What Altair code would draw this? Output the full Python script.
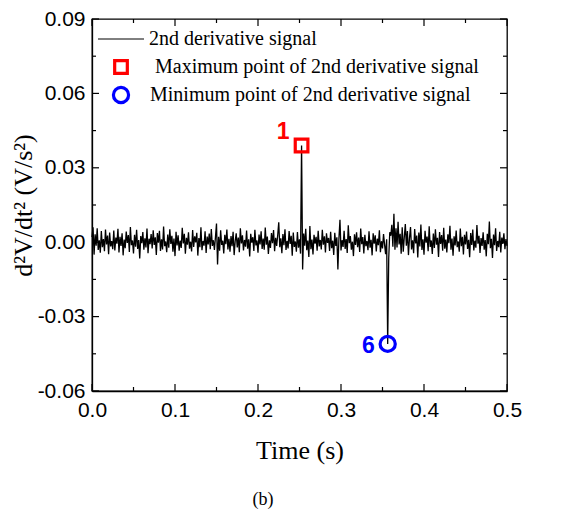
import altair as alt
import pandas as pd
import numpy as np

# 2nd derivative signal, in units of 1e-3 V/s^2, sampled every 1.25 ms from t = 0
dt_s = 0.00125
signal_milli = [
    2.1, 6.0, -5.0, 3.2, -1.4, 5.6, -3.1, 0.8, -4.2, 4.5, -2.0, 1.3, -3.6, 5.1, -0.9, 2.7, -4.8, 3.9, -1.7, 0.4,
    -2.8, 4.7, -3.3, 1.9, -0.6, 5.4, -4.1, 2.2, -1.5, 3.6, -5.3, 1.1, -2.4, 4.3, -0.3, 2.9, -3.9, 6.1, -1.2, 0.7,
    -4.5, 3.0, -1.8, 5.0, -2.7, 0.9, -6.6, 2.5, -0.4, 4.1, -3.0, 1.6, -2.1, 5.5, -4.4, 1.4, -0.8, 3.3, -2.5, 4.8,
    -1.1, 2.0, -5.1, 3.7, -0.2, 4.6, -3.5, 1.2, -2.9, 6.3, -1.6, 0.3, -4.0, 3.1, -2.2, 5.2, -0.7, 2.6, -3.8, 1.5,
    -5.6, 4.2, -1.3, 2.8, -3.4, 0.6, -2.3, 5.8, -0.5, 3.4, -4.6, 1.8, -1.0, 4.0, -2.6, 0.2, -3.7, 4.9, -1.9, 2.4,
    -0.1, 3.8, -5.4, 1.7, -2.0, 6.0, -3.2, 0.5, -1.4, 4.4, -4.3, 2.3, -0.9, 3.5, -2.8, 5.3, -1.5, 0.8, -3.1, 2.1,
    7.5, -9.0, 2.2, -3.4, 4.8, -1.1, 0.6, -4.5, 3.0, -0.8, 5.1, -2.9, 1.4, -3.8, 2.5, -1.6, 4.2, -5.2, 0.4, 3.6,
    -2.1, 1.9, -4.0, 5.6, -0.5, 2.8, -3.3, 0.9, -1.8, 4.7, -2.6, 1.2, -5.8, 3.4, -0.2, 2.0, -3.5, 5.0, -1.3, 0.7,
    -4.2, 3.1, -0.9, 4.4, -2.7, 1.5, -3.0, 5.9, -1.0, 2.3, -4.7, 0.8, -2.3, 3.7, -0.4, 4.9, -3.6, 1.8, -1.5, 2.9,
    8.0, -2.0, 1.6, -4.4, 3.3, -1.2, 5.2, -3.1, 0.5, -2.5, 4.5, -0.7, 2.6, -5.5, 3.9, -1.9, 0.3, -3.8, 4.1, -2.2,
    1.2, -4.6, 39.0, -11.0, 3.5, -1.4, 5.4, -3.2, 0.7, -6.0, 6.5, -2.8, 1.1, -4.9, 3.0, -0.6, 2.2, -3.4, 4.6, -1.7,
    0.9, -2.9, 5.0, -1.0, 2.4, -4.1, 3.6, -0.3, 1.7, -3.5, 4.2, -2.4, 0.6, -5.1, 3.8, -1.5, 2.0, -11.0, 1.5, 9.0,
    -3.3, 0.8, -1.9, 4.6, -2.7, 1.3, -4.3, 6.8, -0.4, 2.5, -3.0, 0.2, -5.6, 3.2, -1.1, 4.0, -2.0, 1.9, -3.9, 5.5,
    -0.8, 2.1, -4.5, 3.0, -1.6, 0.5, -3.2, 4.4, -2.2, 1.0, -5.3, 3.6, -0.6, 2.8, -3.7, 1.4, -1.2, 4.8, -4.0, 0.4,
    -2.5, 3.3, -1.0, -4.8, 1.2, -41.0, -6.5, 4.0, 2.6, 7.0, -1.8, 11.5, -3.0, 5.6, -2.1, 8.2, -0.9, 3.4, -4.6, 6.0,
    -3.8, 2.0, 7.3, -1.4, 4.5, -5.2, 1.6, 6.1, -2.9, 0.8, -4.4, 5.3, -0.5, 2.7, -6.2, 3.9, -1.7, 7.1, -3.1, 1.2,
    -5.0, 4.6, -0.2, 2.3, -3.6, 6.4, -1.9, 0.7, -4.7, 3.5, -2.3, 5.2, -1.0, 1.8, -6.0, 4.1, -0.7, 2.9, -3.4, 5.8,
    -2.6, 1.1, -4.1, 3.2, -0.4, 6.6, -3.0, 1.5, -5.4, 2.4, -1.3, 4.7, -2.0, 0.3, -3.8, 5.5, -1.6, 2.2, -4.9, 3.0,
    -0.9, 4.3, -2.7, 1.0, -6.1, 3.7, -1.1, 5.1, -3.3, 0.6, -2.2, 6.9, -0.6, 2.6, -4.3, 1.7, -1.5, 4.0, -3.0, 0.9,
    -5.7, 3.4, -0.8, 8.3, -2.4, 1.4, -6.4, 3.1, -1.2, 5.6, -3.5, 0.5, -2.0, 4.2, -4.1, 1.9, -0.7, 3.6, -2.8, 1.3,
    -1.5,
]

y_major = [-0.06, -0.03, 0.0, 0.03, 0.06, 0.09]
y_minor = [-0.045, -0.015, 0.015, 0.045, 0.075]
x_major = [0.0, 0.1, 0.2, 0.3, 0.4, 0.5]
x_minor = [0.05, 0.15, 0.25, 0.35, 0.45]

legend_labels = ["2nd derivative signal",
                 "Maximum point of 2nd derivative signal",
                 "Minimum point of 2nd derivative signal"]
max_label = "1"
min_label = "6"

W, H = 415, 372

sig = np.array(signal_milli) / 1000.0
t = np.arange(len(sig)) * dt_s
df = pd.DataFrame({"t": t, "v": sig})
imax, imin = int(np.argmax(sig)), int(np.argmin(sig))
df_max = pd.DataFrame({"t": [t[imax]], "v": [sig[imax]], "lab": [max_label]})
df_min = pd.DataFrame({"t": [t[imin]], "v": [sig[imin]], "lab": [min_label]})

xs = alt.Scale(domain=[0, 0.5], nice=False, zero=False)
ys = alt.Scale(domain=[-0.06, 0.09], nice=False, zero=False)

label_font = "Liberation Sans"
serif = "Liberation Serif"

x_axis = alt.Axis(values=x_major, format=".1f", ticks=False, grid=False,
                  labelFont=label_font, labelFontSize=21, labelColor="black",
                  labelPadding=8, labelFlush=False, labelOverlap=False,
                  domainColor="black", domainWidth=1.3,
                  title="Time (s)", titleFont=serif, titleFontSize=26,
                  titleFontWeight="normal", titleColor="black",
                  titleX=W / 2, titleY=59, titleBaseline="middle", titleAlign="center")
y_axis = alt.Axis(values=y_major, ticks=False, grid=False,
                  labelExpr="replace(format(datum.value, '.2f'), '\u2212', '-')",
                  labelFont=label_font, labelFontSize=21, labelColor="black",
                  labelPadding=7, labelFlush=False, labelOverlap=False,
                  domainColor="black", domainWidth=1.3,
                  title="d\u00b2V/dt\u00b2 (V/s\u00b2)", titleFont=serif, titleFontSize=26,
                  titleFontWeight="normal", titleColor="black",
                  titleX=-69, titleY=H / 2, titleAngle=-90,
                  titleBaseline="middle", titleAlign="center")


def X(field):
    return alt.X(field, scale=xs, axis=x_axis)


def Y(field):
    return alt.Y(field, scale=ys, axis=y_axis)


line = alt.Chart(df).mark_line(color="black", strokeWidth=1.3).encode(x=X("t:Q"), y=Y("v:Q"))

pmax = alt.Chart(df_max).mark_point(shape="square", filled=False, color="#ff0000",
                                    strokeWidth=3.2, size=160, opacity=1).encode(x=X("t:Q"), y=Y("v:Q"))
pmin = alt.Chart(df_min).mark_point(shape="circle", filled=False, color="#0000ff",
                                    strokeWidth=3.2, size=230, opacity=1).encode(x=X("t:Q"), y=Y("v:Q"))
tmax = alt.Chart(df_max).mark_text(color="#ff0000", font=label_font, fontSize=23,
                                   fontWeight="bold", align="right", baseline="middle",
                                   dx=-12, dy=-13).encode(x=X("t:Q"), y=Y("v:Q"), text="lab:N")
tmin = alt.Chart(df_min).mark_text(color="#0000ff", font=label_font, fontSize=23,
                                   fontWeight="bold", align="right", baseline="middle",
                                   dx=-13, dy=2).encode(x=X("t:Q"), y=Y("v:Q"), text="lab:N")


# inward ticks on all four sides
def yticks(vals, length):
    d = pd.DataFrame({"v": vals})
    left = alt.Chart(d).mark_rule(color="black", strokeWidth=1.2).encode(
        y=Y("v:Q"), x=alt.value(0), x2=alt.value(length))
    right = alt.Chart(d).mark_rule(color="black", strokeWidth=1.2).encode(
        y=Y("v:Q"), x=alt.value(W - length), x2=alt.value(W))
    return [left, right]


def xticks(vals, length):
    d = pd.DataFrame({"t": vals})
    bottom = alt.Chart(d).mark_rule(color="black", strokeWidth=1.2).encode(
        x=X("t:Q"), y=alt.value(H), y2=alt.value(H - length))
    top = alt.Chart(d).mark_rule(color="black", strokeWidth=1.2).encode(
        x=X("t:Q"), y=alt.value(0), y2=alt.value(length))
    return [bottom, top]


ticks = yticks(y_major, 7) + yticks(y_minor, 4) + xticks(x_major, 7) + xticks(x_minor, 4)

# legend (inside the plot, top-left)
one = pd.DataFrame({"k": [0]})
leg_line = alt.Chart(one).mark_rule(color="black", strokeWidth=1).encode(
    x=alt.value(6), x2=alt.value(52), y=alt.value(20))
leg_sq = alt.Chart(one).mark_point(shape="square", filled=False, color="#ff0000",
                                   strokeWidth=3.2, size=160, opacity=1).encode(
    x=alt.value(29), y=alt.value(48))
leg_ci = alt.Chart(one).mark_point(shape="circle", filled=False, color="#0000ff",
                                   strokeWidth=3.2, size=230, opacity=1).encode(
    x=alt.value(29), y=alt.value(76))
leg_pos = [(57, 20), (63, 48), (58, 76)]
leg_txt = [
    alt.Chart(pd.DataFrame({"s": [lab]})).mark_text(
        font=serif, fontSize=20, align="left", baseline="middle", color="black").encode(
        x=alt.value(px), y=alt.value(py), text="s:N")
    for lab, (px, py) in zip(legend_labels, leg_pos)
]

panel = alt.Chart(pd.DataFrame({"s": ["(b)"]})).mark_text(
    font=serif, fontSize=18, align="center", baseline="middle", color="black").encode(
    x=alt.value(171), y=alt.value(481), text="s:N")

chart = alt.layer(line, *ticks, pmax, pmin, tmax, tmin, leg_line, leg_sq, leg_ci, *leg_txt, panel).properties(
    width=W, height=H,
    autosize=alt.AutoSizeParams(type="none"),
    padding={"left": 84, "top": 11, "right": 60, "bottom": 120},
).configure(background="white").configure_view(stroke="black", strokeWidth=1.3)

chart.save("out.html", embed_options={"renderer": "svg", "actions": False})
